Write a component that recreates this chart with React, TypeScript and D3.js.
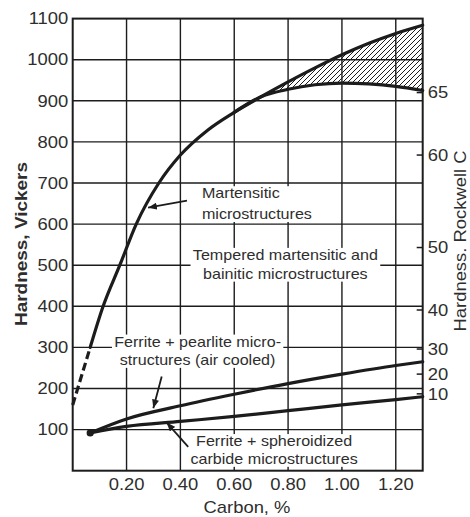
import * as d3 from "d3";
import { useEffect, useRef } from "react";

const W = 470;
const H = 517;
const margin = { top: 18.6, right: 47.3, bottom: 46.3, left: 72.7 };

const xTicks = [0.2, 0.4, 0.6, 0.8, 1.0, 1.2];
const yTicks = [100, 200, 300, 400, 500, 600, 700, 800, 900, 1000, 1100];
const rockwellLabels = [65, 60, 50, 40, 30, 20, 10];
const rockwellAtVickers = [920, 768, 543, 391, 296, 235, 187];

// martensite, dashed start then solid
const dashedCarbon = [0.0, 0.065];
const dashedHV = [160, 300];
const martCarbon = [0.065, 0.113, 0.175, 0.236, 0.32, 0.4, 0.5, 0.6, 0.7];
const martHV = [300, 400, 500, 600, 700, 768, 828, 872, 910];
// split after 0.7 (hatched band)
const bandCarbon = [0.8, 0.9, 1.0, 1.1, 1.2, 1.3];
const upperHV = [946, 980, 1012, 1040, 1064, 1084];
const lowerHV = [928, 939, 943, 941, 935, 925];

const ferriteCarbon = [0.065, 0.2, 0.4, 0.6, 0.8, 1.0, 1.2, 1.3];
const pearliteHV = [92, 126, 158, 186, 212, 235, 256, 265];
const spheroidHV = [92, 108, 120, 132, 146, 160, 173, 180];

const notes = [
	{ lines: ["Martensitic", "microstructures"], c: 0.48, hv: 663, gap: 21, anchor: "start", arrow: [0.4245, 657, 0.28, 640] },
	{ lines: ["Tempered martensitic and", "bainitic microstructures"], c: 0.79, hv: 513, gap: 19, anchor: "middle", arrow: null },
	{ lines: ["Ferrite + pearlite micro-", "structures (air cooled)"], c: 0.464, hv: 302, gap: 18.5, anchor: "middle", arrow: [0.3306, 229, 0.2994, 152] },
	{ lines: ["Ferrite + spheroidized", "carbide microstructures"], c: 0.748, hv: 60, gap: 18, anchor: "middle", arrow: [0.429, 58, 0.349, 117] }
];

const stretch = 1.15;
const font = "'Liberation Sans', Arial, Helvetica, sans-serif";
const ink = "#1c1c1c";
const textInk = "#2e2e2e";

const App = () => {
	const ref = useRef<SVGSVGElement>(null);

	useEffect(() => {
		const svg = d3.select(ref.current);
		svg.selectAll("*").remove();

		const x = d3.scaleLinear().domain([0, 1.3]).range([margin.left, W - margin.right]);
		const y = d3.scaleLinear().domain([0, 1100]).range([H - margin.bottom, margin.top]);

		const defs = svg.append("defs");
		const pat = defs
			.append("pattern")
			.attr("id", "hatch")
			.attr("patternUnits", "userSpaceOnUse")
			.attr("width", 5)
			.attr("height", 5);
		pat
			.append("path")
			.attr("d", "M-1,1 l2,-2 M0,5 l5,-5 M4,6 l2,-2")
			.attr("stroke", ink)
			.attr("stroke-width", 1);
		defs
			.append("marker")
			.attr("id", "head")
			.attr("viewBox", "0 0 10 8")
			.attr("refX", 10)
			.attr("refY", 4)
			.attr("markerWidth", 9)
			.attr("markerHeight", 7)
			.attr("markerUnits", "userSpaceOnUse")
			.attr("orient", "auto")
			.append("path")
			.attr("d", "M0,0 L10,4 L0,8 z")
			.attr("fill", ink);

		const label = (px, py, str, opts: any = {}) => {
			const g = svg
				.append("g")
				.attr("transform", `translate(${px},${py}) ${opts.rotate ? "rotate(-90)" : ""} scale(${stretch},1)`);
			g.append("text")
				.attr("font-family", font)
				.attr("font-size", opts.size || 16)
				.attr("font-weight", opts.bold ? "bold" : "normal")
				.attr("fill", textInk)
				.attr("text-anchor", opts.anchor || "middle")
				.attr("dy", opts.dy || 0)
				.text(str);
		};

		// grid
		const grid = svg.append("g").attr("stroke", ink).attr("stroke-width", 1.4);
		yTicks.slice(0, -1).forEach(v => {
			grid.append("line").attr("x1", x(0)).attr("x2", x(1.3)).attr("y1", y(v)).attr("y2", y(v));
		});
		xTicks.forEach(v => {
			grid.append("line").attr("x1", x(v)).attr("x2", x(v)).attr("y1", y(0)).attr("y2", y(1100));
		});

		// frame
		svg
			.append("rect")
			.attr("x", x(0))
			.attr("y", y(1100))
			.attr("width", x(1.3) - x(0))
			.attr("height", y(0) - y(1100))
			.attr("fill", "none")
			.attr("stroke", ink)
			.attr("stroke-width", 2);

		// right-axis ticks
		rockwellAtVickers.forEach((v, i) => {
			svg
				.append("line")
				.attr("x1", x(1.3) - 6)
				.attr("x2", x(1.3))
				.attr("y1", y(v))
				.attr("y2", y(v))
				.attr("stroke", ink)
				.attr("stroke-width", 1.5);
			label(x(1.3) + 5, y(v), String(rockwellLabels[i]), { anchor: "start", dy: "0.36em" });
		});

		// tick labels
		yTicks.forEach(v => label(x(0) - 4.5, y(v), String(v), { anchor: "end", dy: "0.36em" }));
		xTicks.forEach(v => label(x(v), y(0) + 19.3, v.toFixed(2)));

		// titles
		label(247, 513, "Carbon, %");
		label(27, 244, "Hardness, Vickers", { rotate: true, bold: true, size: 16.5 });
		label(466, 241, "Hardness. Rockwell C", { rotate: true });

		// hatched band
		const bandX = [0.6, 0.7, ...bandCarbon];
		const bandTop = [872, 910, ...upperHV];
		const bandBot = [872, 910, ...lowerHV];
		const area = d3
			.area<number>()
			.x(i => x(bandX[i]))
			.y0(i => y(bandBot[i]))
			.y1(i => y(bandTop[i]))
			.curve(d3.curveMonotoneX);
		svg.append("path").attr("d", area(d3.range(bandX.length))).attr("fill", "url(#hatch)");

		const line = d3
			.line<[number, number]>()
			.x(d => x(d[0]))
			.y(d => y(d[1]))
			.curve(d3.curveMonotoneX);
		const zip = (a: number[], b: number[]) => a.map((v, i) => [v, b[i]] as [number, number]);

		const curves = svg
			.append("g")
			.attr("fill", "none")
			.attr("stroke", ink)
			.attr("stroke-width", 3.2)
			.attr("stroke-linecap", "round");
		curves
			.append("path")
			.attr("d", line(zip(dashedCarbon, dashedHV)))
			.attr("stroke-dasharray", "8,4")
			.attr("stroke-linecap", "butt");
		curves.append("path").attr("d", line(zip([...martCarbon, ...bandCarbon], [...martHV, ...upperHV])));
		curves.append("path").attr("d", line(zip(bandX, bandBot)));
		curves.append("path").attr("d", line(zip(ferriteCarbon, pearliteHV)));
		curves.append("path").attr("d", line(zip(ferriteCarbon, spheroidHV)));
		svg
			.append("circle")
			.attr("cx", x(ferriteCarbon[0]))
			.attr("cy", y(pearliteHV[0]))
			.attr("r", 3.6)
			.attr("fill", ink);

		// annotations
		notes.forEach(n => {
			const g = svg
				.append("g")
				.attr("transform", `translate(${x(n.c)},${y(n.hv)}) scale(${stretch},1)`);
			const bg = g.append("rect").attr("fill", "#fff");
			const t = g
				.append("text")
				.attr("font-family", font)
				.attr("font-size", 14)
				.attr("fill", textInk)
				.attr("text-anchor", n.anchor);
			n.lines.forEach((s, i) => {
				t.append("tspan").attr("x", 0).attr("y", i * n.gap).text(s);
			});
			const b = (t.node() as SVGTextElement).getBBox();
			bg.attr("x", b.x - 2).attr("y", b.y + 1).attr("width", b.width + 4).attr("height", b.height - 1);
			if (n.arrow) {
				const [c0, h0, c1, h1] = n.arrow;
				svg
					.append("line")
					.attr("x1", x(c0))
					.attr("y1", y(h0))
					.attr("x2", x(c1))
					.attr("y2", y(h1))
					.attr("stroke", ink)
					.attr("stroke-width", 1.8)
					.attr("marker-end", "url(#head)");
			}
		});
	}, []);

	return (
		<div style={{ position: "absolute", left: 0, top: 0 }}>
			<svg ref={ref} width={W} height={H} style={{ display: "block", background: "#fff" }} />
		</div>
	);
};

export default App;
